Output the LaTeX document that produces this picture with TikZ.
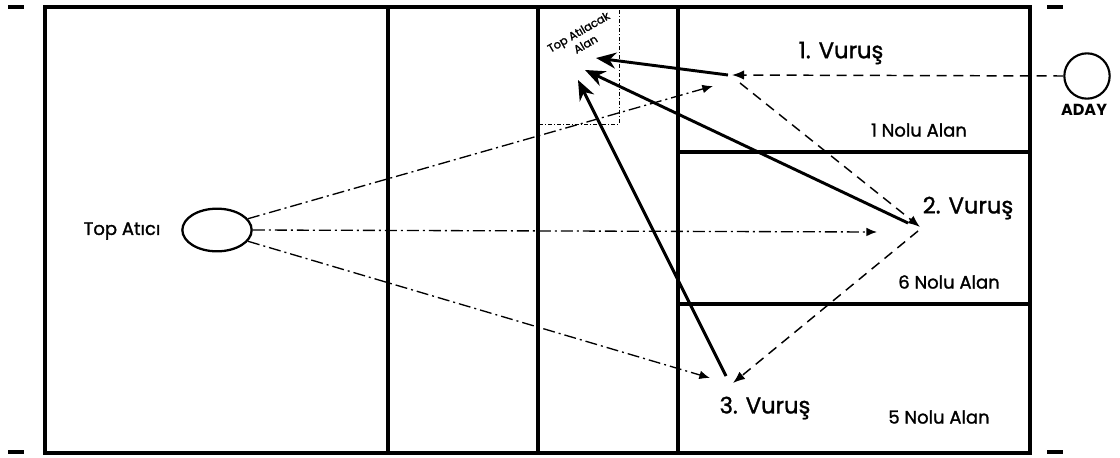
\documentclass[tikz,border=0pt]{standalone}
\usepackage{fontspec}
\setmainfont{Poppins}
\newfontfamily\kalin{Poppins}[FakeBold=1.4]
\usetikzlibrary{arrows.meta,shapes.geometric}

\begin{document}
\begin{tikzpicture}[x=0.75pt,y=-0.75pt,
    court/.style={line width=2.4pt},
    vurus/.style={line width=2.2pt,-{Stealth[length=15pt,width=12pt]}},
    pas/.style={line width=1.1pt,dash pattern=on 7.5pt off 5pt,-{Latex[length=9pt,width=7pt]}},
    atis/.style={line width=1pt,dash pattern=on 9pt off 3pt on 1.5pt off 3pt,-{Latex[length=8pt,width=6.5pt]}},
    alanyazi/.style={font=\kalin\fontsize{13.5}{15}\selectfont},
    vurusyazi/.style={font=\kalin\fontsize{17}{19}\selectfont}]
  \useasboundingbox (0,0) rectangle (1120,457);
  % saha
  \draw [court] (45,7) rectangle (1030,453);
  \draw [court] (388,7) -- (388,453);
  \draw [court] (538,7) -- (538,453);
  \draw [court] (678,7) -- (678,453);
  \draw [court] (678,152) -- (1030,152);
  \draw [court] (678,304) -- (1030,304);
  \draw [court] (8,7) -- (24,7);
  \draw [court] (8,452) -- (24,452);
  \draw [court] (1047,7) -- (1063,7);
  \draw [court] (1047,452) -- (1063,452);
  % top atilacak alan
  \draw [line width=0.7pt,dash pattern=on 3pt off 1.5pt on 0.8pt off 1.5pt] (619,10) -- (619,124) -- (540,124);
  \node [font=\kalin\fontsize{8.5}{10.5}\selectfont,rotate=30,align=center,inner sep=0pt] (hedef) at (582,38) {Top Atılacak\\Alan};
  % oyuncular
  \node [draw,circle,line width=1.6pt,minimum size=34pt,inner sep=0pt] (aday) at (1087,76) {};
  \node [font=\fontsize{12}{13}\selectfont\bfseries,below=0pt] (adayyazi) at (1084,100) {ADAY};
  \node [draw,ellipse,line width=1.7pt,minimum width=52pt,minimum height=32pt,inner sep=0pt] (atici) at (217,230) {};
  \node [alanyazi] (aticiyazi) at (122,231) {Top Atıcı};
  % yazilar
  \node [vurusyazi] (v1yazi) at (841,53) {1. Vuruş};
  \node [vurusyazi] (v2yazi) at (968,208) {2. Vuruş};
  \node [vurusyazi] (v3yazi) at (765,408) {3. Vuruş};
  \node [alanyazi] (alan1) at (919,130) {1 Nolu Alan};
  \node [alanyazi] (alan6) at (949,282) {6 Nolu Alan};
  \node [alanyazi] (alan5) at (939,417) {5 Nolu Alan};
  % noktalar
  \coordinate (v1) at (732,75);
  \coordinate (v1b) at (740,83);
  \coordinate (v1s) at (728,75);
  \coordinate (v2) at (920,227);
  \coordinate (v2b) at (918,231);
  \coordinate (v2s) at (908,223);
  \coordinate (v3) at (733,383);
  \coordinate (v3s) at (726,376);
  \coordinate (t1) at (596,58);
  \coordinate (t2) at (585,70);
  \coordinate (t3) at (578,80);
  \coordinate (a1) at (713,86);
  \coordinate (a2) at (877,232);
  \coordinate (a3) at (710,378);
  % top atislari
  \draw [atis] (atici.20) -- (a1);
  \draw [atis] (atici.east) -- (a2);
  \draw [atis] (atici.-20) -- (a3);
  % paslar
  \draw [pas] (aday.west) -- (v1);
  \draw [pas] (v1b) -- (v2);
  \draw [pas] (v2b) -- (v3);
  % vuruslar
  \draw [vurus] (v1s) -- (t1);
  \draw [vurus] (v2s) -- (t2);
  \draw [vurus] (v3s) -- (t3);
\end{tikzpicture}
\end{document}
